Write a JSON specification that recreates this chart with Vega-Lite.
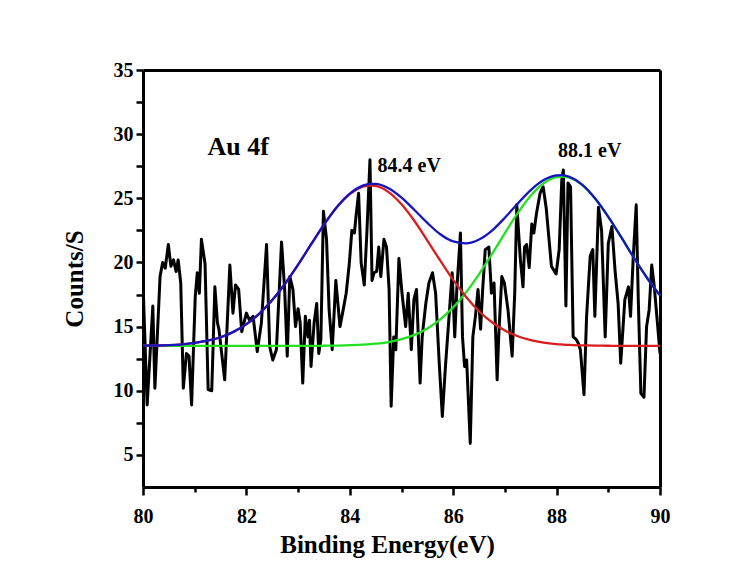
{
  "$schema": "https://vega.github.io/schema/vega-lite/v6.json",
  "width": 517,
  "height": 417,
  "autosize": {"type": "none"},
  "padding": {"left": 143, "top": 70, "right": 92, "bottom": 87},
  "background": "white",
  "config": {
    "view": {"stroke": null},
    "font": "Liberation Serif",
    "axis": {
      "grid": false,
      "domainColor": "black",
      "domainWidth": 3,
      "tickColor": "black",
      "tickWidth": 2.5,
      "labelFont": "Liberation Serif",
      "labelFontWeight": "bold",
      "labelFontSize": 20,
      "labelColor": "black",
      "labelOverlap": false,
      "labelFlush": false,
      "titleFont": "Liberation Serif",
      "titleFontWeight": "bold",
      "titleFontSize": 25,
      "titleColor": "black"
    }
  },
  "resolve": {"axis": {"x": "independent", "y": "independent"}},
  "datasets": {
    "raw": [
      {"x": 80.0, "y": 18.4}, {"x": 80.08, "y": 8.9}, {"x": 80.19, "y": 16.6}, {"x": 80.23, "y": 10.2},
      {"x": 80.33, "y": 18.9}, {"x": 80.38, "y": 20.0}, {"x": 80.43, "y": 19.55}, {"x": 80.49, "y": 21.4},
      {"x": 80.54, "y": 19.7}, {"x": 80.59, "y": 20.2}, {"x": 80.64, "y": 19.3}, {"x": 80.68, "y": 20.2},
      {"x": 80.73, "y": 18.4}, {"x": 80.78, "y": 10.2}, {"x": 80.84, "y": 12.9}, {"x": 80.89, "y": 12.7},
      {"x": 80.94, "y": 8.9}, {"x": 81.01, "y": 17.3}, {"x": 81.05, "y": 19.2}, {"x": 81.09, "y": 17.6},
      {"x": 81.13, "y": 21.8}, {"x": 81.2, "y": 19.9}, {"x": 81.26, "y": 10.1}, {"x": 81.33, "y": 10.0},
      {"x": 81.39, "y": 18.1}, {"x": 81.44, "y": 15.3}, {"x": 81.47, "y": 14.75}, {"x": 81.58, "y": 10.85},
      {"x": 81.68, "y": 19.8}, {"x": 81.74, "y": 16.05}, {"x": 81.79, "y": 18.25}, {"x": 81.85, "y": 17.9},
      {"x": 81.91, "y": 14.6}, {"x": 82.0, "y": 16.05}, {"x": 82.06, "y": 15.5}, {"x": 82.13, "y": 15.8},
      {"x": 82.21, "y": 13.05}, {"x": 82.29, "y": 15.3}, {"x": 82.39, "y": 21.4}, {"x": 82.45, "y": 13.45},
      {"x": 82.51, "y": 12.4}, {"x": 82.58, "y": 13.2}, {"x": 82.68, "y": 21.6}, {"x": 82.74, "y": 17.9},
      {"x": 82.79, "y": 12.7}, {"x": 82.84, "y": 18.9}, {"x": 82.9, "y": 17.9}, {"x": 82.95, "y": 15.0},
      {"x": 83.0, "y": 16.4}, {"x": 83.04, "y": 15.3}, {"x": 83.09, "y": 10.6}, {"x": 83.14, "y": 15.8},
      {"x": 83.19, "y": 14.2}, {"x": 83.22, "y": 15.5}, {"x": 83.25, "y": 11.9}, {"x": 83.31, "y": 15.3},
      {"x": 83.36, "y": 16.8}, {"x": 83.4, "y": 12.9}, {"x": 83.44, "y": 14.0}, {"x": 83.49, "y": 24.0},
      {"x": 83.55, "y": 21.8}, {"x": 83.6, "y": 16.3}, {"x": 83.66, "y": 13.2}, {"x": 83.73, "y": 18.6},
      {"x": 83.81, "y": 15.0}, {"x": 83.86, "y": 16.05}, {"x": 83.93, "y": 17.6}, {"x": 83.99, "y": 19.9},
      {"x": 84.04, "y": 22.5}, {"x": 84.09, "y": 22.3}, {"x": 84.12, "y": 23.6}, {"x": 84.17, "y": 25.4},
      {"x": 84.22, "y": 19.95}, {"x": 84.28, "y": 18.25}, {"x": 84.33, "y": 22.3}, {"x": 84.39, "y": 28.0},
      {"x": 84.43, "y": 18.6}, {"x": 84.47, "y": 19.2}, {"x": 84.52, "y": 19.3}, {"x": 84.56, "y": 21.2},
      {"x": 84.6, "y": 18.9}, {"x": 84.66, "y": 21.8}, {"x": 84.71, "y": 21.2}, {"x": 84.76, "y": 17.9},
      {"x": 84.8, "y": 8.8}, {"x": 84.85, "y": 14.2}, {"x": 84.89, "y": 13.2}, {"x": 84.95, "y": 20.3},
      {"x": 85.01, "y": 17.6}, {"x": 85.08, "y": 15.0}, {"x": 85.13, "y": 17.6}, {"x": 85.19, "y": 13.2},
      {"x": 85.24, "y": 17.1}, {"x": 85.29, "y": 17.9}, {"x": 85.36, "y": 10.6}, {"x": 85.4, "y": 14.2},
      {"x": 85.47, "y": 16.8}, {"x": 85.53, "y": 18.4}, {"x": 85.6, "y": 19.2}, {"x": 85.66, "y": 17.6},
      {"x": 85.73, "y": 12.15}, {"x": 85.79, "y": 8.0}, {"x": 85.85, "y": 11.9}, {"x": 85.92, "y": 15.8},
      {"x": 85.98, "y": 19.2}, {"x": 86.03, "y": 14.2}, {"x": 86.07, "y": 17.9}, {"x": 86.14, "y": 22.3},
      {"x": 86.18, "y": 14.2}, {"x": 86.22, "y": 11.9}, {"x": 86.26, "y": 12.4}, {"x": 86.33, "y": 5.9},
      {"x": 86.38, "y": 14.2}, {"x": 86.43, "y": 15.8}, {"x": 86.48, "y": 17.9}, {"x": 86.53, "y": 14.8},
      {"x": 86.57, "y": 17.9}, {"x": 86.62, "y": 21.0}, {"x": 86.69, "y": 21.2}, {"x": 86.74, "y": 17.6},
      {"x": 86.79, "y": 18.4}, {"x": 86.85, "y": 10.85}, {"x": 86.88, "y": 14.2}, {"x": 86.94, "y": 18.9},
      {"x": 86.99, "y": 18.4}, {"x": 87.06, "y": 16.3}, {"x": 87.14, "y": 12.7}, {"x": 87.19, "y": 17.6},
      {"x": 87.23, "y": 24.5}, {"x": 87.3, "y": 20.2}, {"x": 87.35, "y": 18.1}, {"x": 87.38, "y": 21.2},
      {"x": 87.42, "y": 21.4}, {"x": 87.47, "y": 19.6}, {"x": 87.52, "y": 23.0}, {"x": 87.56, "y": 22.3},
      {"x": 87.61, "y": 23.8}, {"x": 87.68, "y": 25.4}, {"x": 87.74, "y": 25.9}, {"x": 87.8, "y": 24.2},
      {"x": 87.9, "y": 19.7}, {"x": 87.99, "y": 19.1}, {"x": 88.05, "y": 21.0}, {"x": 88.1, "y": 26.4},
      {"x": 88.13, "y": 27.2}, {"x": 88.18, "y": 16.6}, {"x": 88.22, "y": 26.2}, {"x": 88.27, "y": 25.9},
      {"x": 88.32, "y": 14.2}, {"x": 88.38, "y": 14.0}, {"x": 88.42, "y": 13.7}, {"x": 88.46, "y": 13.2},
      {"x": 88.53, "y": 9.7}, {"x": 88.58, "y": 15.8}, {"x": 88.65, "y": 20.5}, {"x": 88.7, "y": 21.0},
      {"x": 88.74, "y": 15.8}, {"x": 88.81, "y": 24.3}, {"x": 88.87, "y": 22.5}, {"x": 88.94, "y": 14.2},
      {"x": 89.0, "y": 21.5}, {"x": 89.07, "y": 22.8}, {"x": 89.13, "y": 19.4}, {"x": 89.19, "y": 16.8},
      {"x": 89.24, "y": 12.15}, {"x": 89.32, "y": 17.1}, {"x": 89.39, "y": 18.1}, {"x": 89.43, "y": 15.8},
      {"x": 89.48, "y": 20.2}, {"x": 89.54, "y": 24.5}, {"x": 89.58, "y": 17.1}, {"x": 89.63, "y": 9.8},
      {"x": 89.69, "y": 9.5}, {"x": 89.74, "y": 15.0}, {"x": 89.79, "y": 16.3}, {"x": 89.84, "y": 19.8},
      {"x": 89.89, "y": 18.1}, {"x": 89.95, "y": 15.3}, {"x": 90.0, "y": 12.9}
    ],
    "fit": [
      {"x": 80.0, "red": 13.52, "green": 13.5, "blue": 13.52},
      {"x": 80.25, "red": 13.53, "green": 13.5, "blue": 13.53},
      {"x": 80.5, "red": 13.56, "green": 13.5, "blue": 13.56},
      {"x": 80.75, "red": 13.62, "green": 13.5, "blue": 13.62},
      {"x": 81.0, "red": 13.73, "green": 13.5, "blue": 13.73},
      {"x": 81.25, "red": 13.9, "green": 13.5, "blue": 13.9},
      {"x": 81.5, "red": 14.17, "green": 13.5, "blue": 14.17},
      {"x": 81.75, "red": 14.59, "green": 13.5, "blue": 14.59},
      {"x": 82.0, "red": 15.19, "green": 13.5, "blue": 15.19},
      {"x": 82.25, "red": 16.01, "green": 13.5, "blue": 16.01},
      {"x": 82.5, "red": 17.07, "green": 13.5, "blue": 17.07},
      {"x": 82.75, "red": 18.36, "green": 13.5, "blue": 18.36},
      {"x": 83.0, "red": 19.83, "green": 13.5, "blue": 19.83},
      {"x": 83.25, "red": 21.4, "green": 13.5, "blue": 21.4},
      {"x": 83.5, "red": 22.94, "green": 13.51, "blue": 22.95},
      {"x": 83.75, "red": 24.3, "green": 13.52, "blue": 24.32},
      {"x": 84.0, "red": 25.33, "green": 13.55, "blue": 25.37},
      {"x": 84.25, "red": 25.9, "green": 13.59, "blue": 25.99},
      {"x": 84.4, "red": 26.0, "green": 13.63, "blue": 26.13},
      {"x": 84.5, "red": 25.96, "green": 13.67, "blue": 26.13},
      {"x": 84.75, "red": 25.48, "green": 13.8, "blue": 25.78},
      {"x": 85.0, "red": 24.53, "green": 14.02, "blue": 25.05},
      {"x": 85.25, "red": 23.23, "green": 14.36, "blue": 24.09},
      {"x": 85.5, "red": 21.71, "green": 14.86, "blue": 23.08},
      {"x": 85.75, "red": 20.14, "green": 15.57, "blue": 22.2},
      {"x": 86.0, "red": 18.64, "green": 16.5, "blue": 21.64},
      {"x": 86.25, "red": 17.31, "green": 17.68, "blue": 21.49},
      {"x": 86.5, "red": 16.2, "green": 19.09, "blue": 21.79},
      {"x": 86.75, "red": 15.34, "green": 20.66, "blue": 22.49},
      {"x": 87.0, "red": 14.7, "green": 22.29, "blue": 23.49},
      {"x": 87.25, "red": 14.25, "green": 23.86, "blue": 24.6},
      {"x": 87.5, "red": 13.94, "green": 25.2, "blue": 25.64},
      {"x": 87.75, "red": 13.75, "green": 26.17, "blue": 26.42},
      {"x": 88.0, "red": 13.64, "green": 26.66, "blue": 26.79},
      {"x": 88.1, "red": 13.61, "green": 26.7, "blue": 26.81},
      {"x": 88.25, "red": 13.57, "green": 26.6, "blue": 26.67},
      {"x": 88.5, "red": 13.54, "green": 26.01, "blue": 26.05},
      {"x": 88.75, "red": 13.52, "green": 24.95, "blue": 24.97},
      {"x": 89.0, "red": 13.51, "green": 23.56, "blue": 23.56},
      {"x": 89.25, "red": 13.5, "green": 21.97, "blue": 21.97},
      {"x": 89.5, "red": 13.5, "green": 20.33, "blue": 20.33},
      {"x": 89.75, "red": 13.5, "green": 18.79, "blue": 18.79},
      {"x": 90.0, "red": 13.5, "green": 17.43, "blue": 17.43}
    ],
    "labels": [
      {"x": 81.84, "y": 28.4, "t": "Au 4f", "kind": "big"},
      {"x": 85.15, "y": 27.06, "t": "84.4 eV", "kind": "small"},
      {"x": 88.64, "y": 28.22, "t": "88.1 eV", "kind": "small"}
    ]
  },
  "layer": [
    {
      "data": {"name": "raw"},
      "mark": {"type": "line", "color": "black", "strokeWidth": 3, "strokeJoin": "round", "clip": true},
      "encoding": {
        "x": {
          "field": "x", "type": "quantitative",
          "scale": {"domain": [80, 90], "nice": false, "zero": false},
          "axis": {
            "orient": "bottom",
            "title": "Binding Energy(eV)",
            "values": [80, 81, 82, 83, 84, 85, 86, 87, 88, 89, 90],
            "labelExpr": "datum.value % 2 === 0 ? datum.label : ''",
            "tickSize": {"condition": {"test": "datum.value % 2 === 0", "value": 8}, "value": 5},
            "labelPadding": 11,
            "titlePadding": 6,
            "titleX": 244
          }
        },
        "y": {
          "field": "y", "type": "quantitative",
          "scale": {"domain": [2.5, 35], "nice": false, "zero": false},
          "axis": {
            "orient": "left",
            "title": "Counts/S",
            "values": [5, 7.5, 10, 12.5, 15, 17.5, 20, 22.5, 25, 27.5, 30, 32.5, 35],
            "labelExpr": "datum.value % 5 === 0 ? datum.label : ''",
            "tickSize": 7,
            "labelPadding": 3,
            "titlePadding": 26
          }
        }
      }
    },
    {
      "data": {"name": "fit"},
      "mark": {"type": "line", "color": "#22e022", "strokeWidth": 2.3, "interpolate": "monotone"},
      "encoding": {
        "x": {"field": "x", "type": "quantitative", "axis": {"orient": "top", "title": null, "labels": false, "ticks": false}},
        "y": {"field": "green", "type": "quantitative", "axis": {"orient": "right", "title": null, "labels": false, "ticks": false}}
      }
    },
    {
      "data": {"name": "fit"},
      "mark": {"type": "line", "color": "#d81e1e", "strokeWidth": 2.3, "interpolate": "monotone"},
      "encoding": {
        "x": {"field": "x", "type": "quantitative", "axis": null},
        "y": {"field": "red", "type": "quantitative", "axis": null}
      }
    },
    {
      "data": {"name": "fit"},
      "mark": {"type": "line", "color": "#1414c0", "strokeWidth": 2.3, "interpolate": "monotone"},
      "encoding": {
        "x": {"field": "x", "type": "quantitative", "axis": null},
        "y": {"field": "blue", "type": "quantitative", "axis": null}
      }
    },
    {
      "data": {"name": "labels"},
      "transform": [{"filter": "datum.kind === 'big'"}],
      "mark": {"type": "text", "font": "Liberation Serif", "fontWeight": "bold", "fontSize": 26, "align": "center", "baseline": "alphabetic", "color": "black"},
      "encoding": {
        "x": {"field": "x", "type": "quantitative", "axis": null},
        "y": {"field": "y", "type": "quantitative", "axis": null},
        "text": {"field": "t"}
      }
    },
    {
      "data": {"name": "labels"},
      "transform": [{"filter": "datum.kind === 'small'"}],
      "mark": {"type": "text", "font": "Liberation Serif", "fontWeight": "bold", "fontSize": 20, "align": "center", "baseline": "alphabetic", "color": "black"},
      "encoding": {
        "x": {"field": "x", "type": "quantitative", "axis": null},
        "y": {"field": "y", "type": "quantitative", "axis": null},
        "text": {"field": "t"}
      }
    }
  ]
}
